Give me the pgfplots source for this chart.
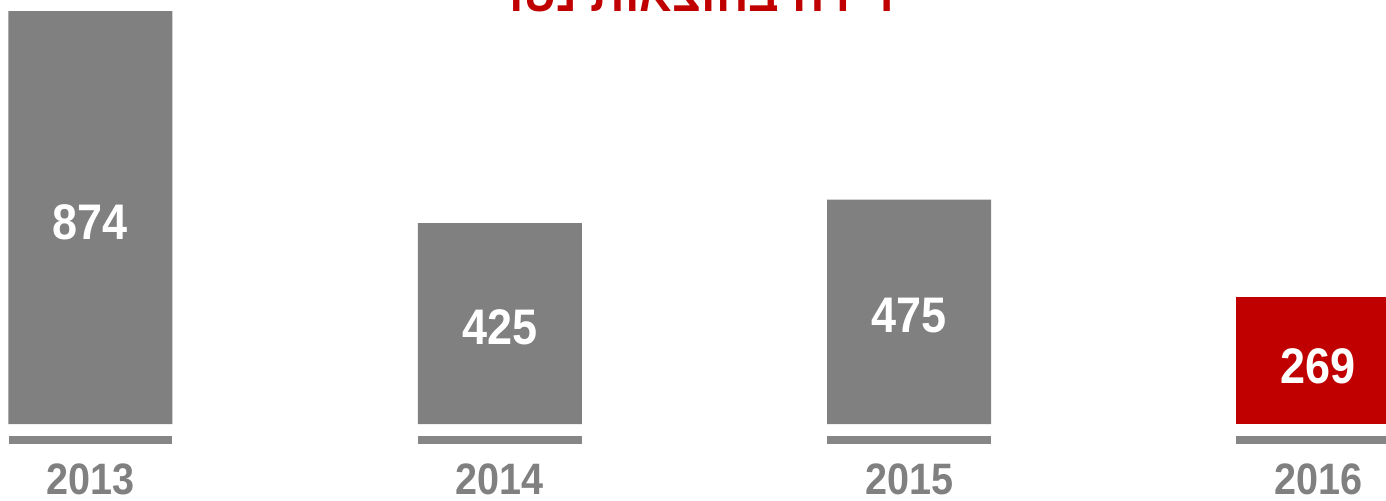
\documentclass[border=0pt]{standalone}
\usepackage{fontspec}
\setmainfont{Liberation Sans}[FakeStretch=0.9]
\newfontfamily\hebfont[Script=Hebrew]{Liberation Sans}
\TeXXeTstate=1
\usepackage{pgfplots}
\pgfplotsset{compat=1.18}
\definecolor{bargray}{RGB}{128,128,128}
\definecolor{linegray}{RGB}{134,134,134}
\definecolor{barred}{RGB}{192,0,0}
\begin{document}
\begin{tikzpicture}
\begin{axis}[
  scale only axis,
  width=693pt, height=250pt,
  xmin=-0.2211, xmax=3.1652,
  ymin=-160.85, ymax=897.35,
  axis line style={draw=none},
  tick style={draw=none},
  major tick length=0pt,
  ytick=\empty,
  xtick={0,1,2,3},
  xticklabels={2013,2014,2015,2016},
  xticklabel style={anchor=base, yshift=3pt, text=bargray,
    font=\fontsize{22}{22}\selectfont\bfseries},
  clip=true,
]
% gray bars
\addplot[ybar, bar width=82pt, bar shift=0pt, fill=bargray, draw=none]
  coordinates {(0,874) (1,425) (2,475)};
% red bar
\addplot[ybar, bar width=82pt, bar shift=0pt, fill=barred, draw=none]
  coordinates {(3,269)};
% underlines
\addplot[draw=none, mark=none,
  error bars/.cd, x dir=both, x explicit, error mark=none,
  error bar style={line width=4pt, color=linegray}]
  coordinates {(0,-33.9) +- (0.2003,0) (1,-33.9) +- (0.2003,0)
               (2,-33.9) +- (0.2003,0) (3,-33.9) +- (0.2003,0)};
% value labels
\addplot[draw=none, mark=none, nodes near coords, point meta=explicit symbolic,
  nodes near coords style={anchor=center, text=white,
    font=\fontsize{25}{25}\selectfont\bfseries}]
  coordinates {(0,427.5)[874] (1,205.3)[425] (2,228.6)[475] (3,122.8)[269]};
\node[anchor=base, text=barred, inner sep=0pt,
  font=\hebfont\fontsize{24}{24}\selectfont\bfseries]
  at (axis cs:1.511,872) {\beginR ירידה בהוצאות נטו\endR};
\end{axis}
\pgfresetboundingbox
\useasboundingbox (current axis.south west) rectangle (current axis.north east);
\end{tikzpicture}
\end{document}
